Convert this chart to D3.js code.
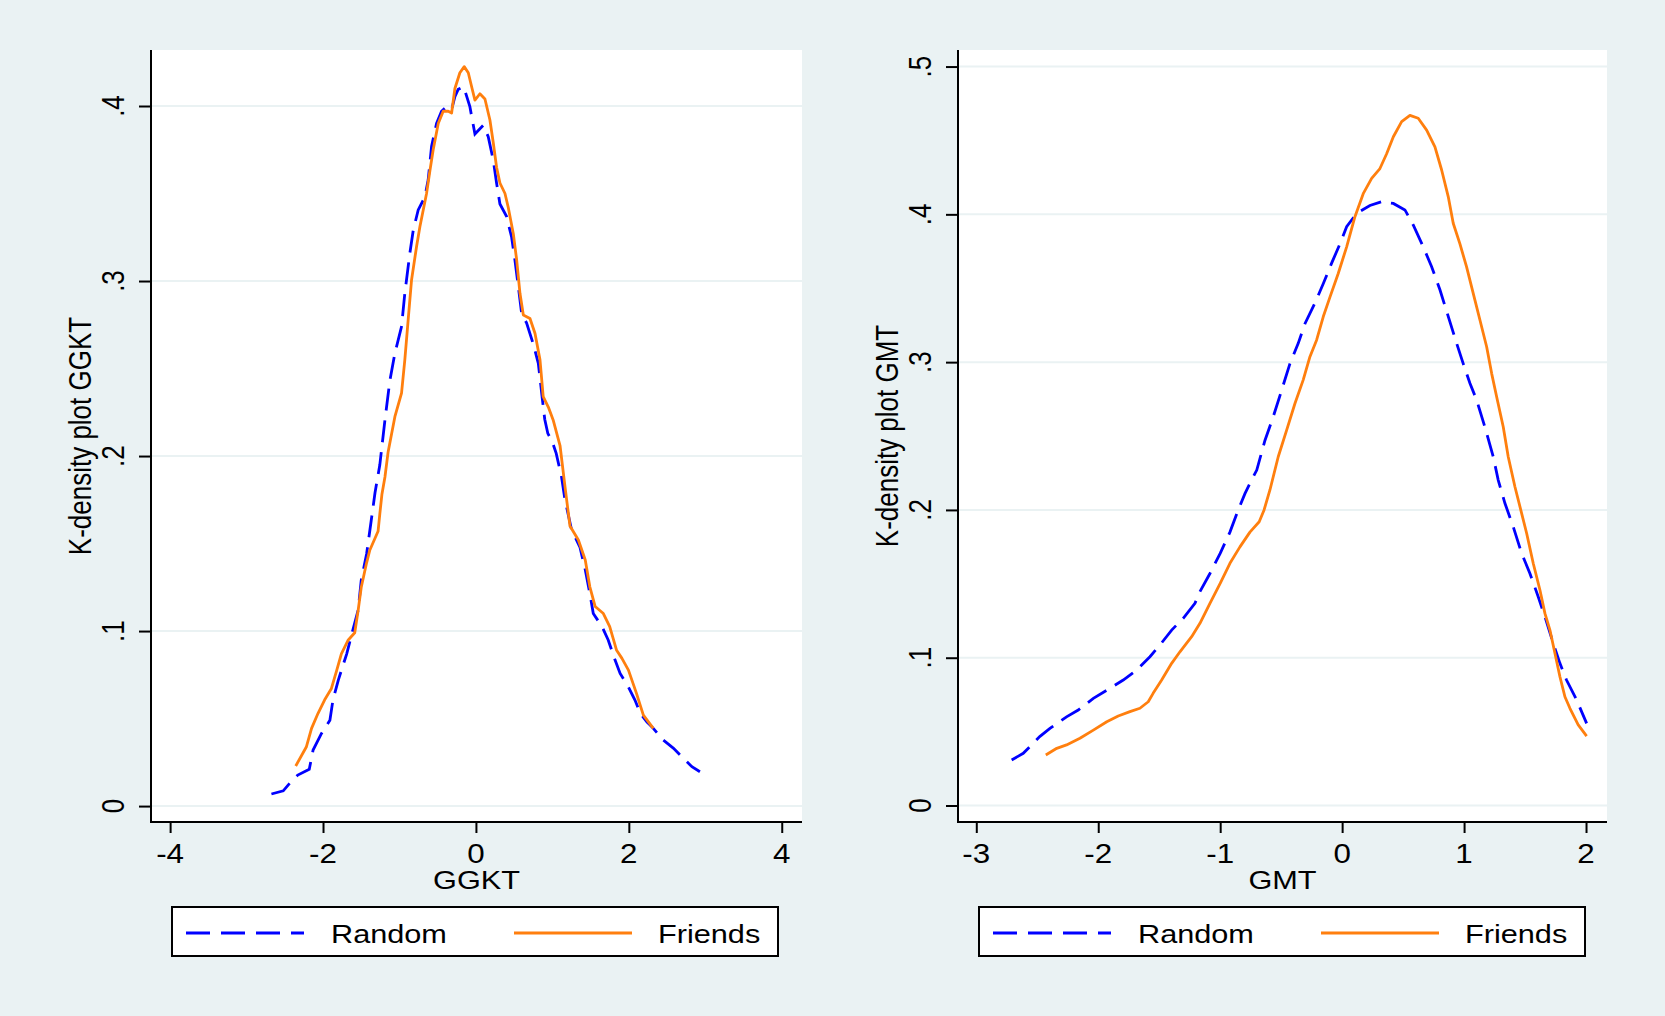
<!DOCTYPE html>
<html>
<head>
<meta charset="utf-8">
<script src="https://cdn.jsdelivr.net/npm/d3@7"></script>
<style>
  body { margin: 0; background: #eaf2f3; }
  text { font-family: "Liberation Sans", Arial, sans-serif; fill: #000; }
</style>
</head>
<body>
<script>
const ggktTicksX = [-4, -2, 0, 2, 4]
const ggktTicksY = [0, 0.1, 0.2, 0.3, 0.4]
const ggktTickLabelsY = ["0", ".1", ".2", ".3", ".4"]
const gmtTicksX = [-3, -2, -1, 0, 1, 2]
const gmtTicksY = [0, 0.1, 0.2, 0.3, 0.4, 0.5]
const gmtTickLabelsY = ["0", ".1", ".2", ".3", ".4", ".5"]
const seriesNames = ["Random", "Friends"]

const ggktRandom = [
  [-2.675, 0.0069], [-2.52, 0.0087], [-2.436, 0.013], [-2.33, 0.0177], [-2.18, 0.021],
  [-2.13, 0.032], [-2.02, 0.0415], [-1.91, 0.049], [-1.87, 0.0606], [-1.80, 0.072],
  [-1.69, 0.087], [-1.61, 0.1006], [-1.54, 0.112], [-1.50, 0.129], [-1.43, 0.144],
  [-1.37, 0.163], [-1.32, 0.179], [-1.257, 0.195], [-1.19, 0.2206], [-1.126, 0.243],
  [-1.06, 0.2587], [-0.973, 0.274], [-0.93, 0.293], [-0.864, 0.316], [-0.82, 0.329],
  [-0.755, 0.3406], [-0.668, 0.348], [-0.625, 0.3577], [-0.58, 0.377], [-0.515, 0.39],
  [-0.45, 0.397], [-0.384, 0.3996], [-0.318, 0.398], [-0.275, 0.4053], [-0.232, 0.4095],
  [-0.16, 0.411], [-0.079, 0.3996], [-0.013, 0.384], [0.096, 0.389], [0.161, 0.3825],
  [0.227, 0.369], [0.27, 0.356], [0.314, 0.344], [0.4, 0.337], [0.467, 0.325],
  [0.51, 0.312], [0.554, 0.297], [0.598, 0.2815], [0.663, 0.276], [0.75, 0.264],
  [0.816, 0.253], [0.86, 0.236], [0.90, 0.221], [0.94, 0.213], [1.0, 0.208],
  [1.05, 0.2015], [1.12, 0.188], [1.165, 0.175], [1.25, 0.158], [1.36, 0.148],
  [1.43, 0.135], [1.49, 0.1215], [1.535, 0.11], [1.65, 0.1025], [1.73, 0.0949],
  [1.82, 0.0834], [1.886, 0.0758], [1.995, 0.068], [2.08, 0.0606], [2.15, 0.053],
  [2.235, 0.0482], [2.32, 0.0444], [2.45, 0.0377], [2.585, 0.033], [2.715, 0.0272],
  [2.825, 0.0225], [2.93, 0.0196]
]

const ggktFriends = [
  [-2.357, 0.0229], [-2.217, 0.0339], [-2.15, 0.0444], [-2.065, 0.053], [-1.98, 0.0606],
  [-1.89, 0.0672], [-1.82, 0.0777], [-1.76, 0.087], [-1.67, 0.0949], [-1.585, 0.099],
  [-1.54, 0.112], [-1.50, 0.125], [-1.43, 0.139], [-1.39, 0.146], [-1.32, 0.153],
  [-1.28, 0.157], [-1.257, 0.167], [-1.23, 0.178], [-1.19, 0.188], [-1.148, 0.2025],
  [-1.06, 0.2225], [-0.973, 0.236], [-0.93, 0.255], [-0.886, 0.278], [-0.842, 0.3006],
  [-0.777, 0.3196], [-0.733, 0.331], [-0.646, 0.35], [-0.602, 0.363], [-0.559, 0.375],
  [-0.493, 0.39], [-0.428, 0.397], [-0.362, 0.397], [-0.318, 0.396], [-0.275, 0.41],
  [-0.21, 0.419], [-0.153, 0.4225], [-0.1, 0.419], [-0.056, 0.411], [-0.013, 0.4034],
  [0.052, 0.407], [0.118, 0.404], [0.183, 0.392], [0.227, 0.379], [0.27, 0.365],
  [0.314, 0.356], [0.38, 0.35], [0.423, 0.342], [0.489, 0.327], [0.533, 0.312],
  [0.576, 0.293], [0.62, 0.2806], [0.707, 0.2786], [0.773, 0.27], [0.838, 0.255],
  [0.88, 0.234], [0.947, 0.228], [1.01, 0.2206], [1.1, 0.206], [1.165, 0.1825],
  [1.23, 0.16], [1.34, 0.152], [1.43, 0.1406], [1.49, 0.1253], [1.56, 0.114],
  [1.667, 0.11], [1.75, 0.1025], [1.84, 0.089], [1.91, 0.0844], [1.995, 0.0777],
  [2.1, 0.0644], [2.19, 0.052], [2.32, 0.0444]
]

const gmtRandom = [
  [-2.71, 0.0308], [-2.615, 0.0353], [-2.48, 0.0466], [-2.396, 0.0522], [-2.26, 0.06],
  [-2.164, 0.0646], [-2.04, 0.0725], [-1.93, 0.078], [-1.795, 0.0849], [-1.685, 0.0917],
  [-1.576, 0.1007], [-1.494, 0.1086], [-1.398, 0.1187], [-1.303, 0.1267], [-1.207, 0.1368],
  [-1.166, 0.1447], [-1.084, 0.157], [-1.0, 0.1706], [-0.92, 0.185], [-0.852, 0.2],
  [-0.797, 0.211], [-0.756, 0.218], [-0.70, 0.227], [-0.633, 0.247], [-0.565, 0.263],
  [-0.496, 0.281], [-0.428, 0.299], [-0.36, 0.3127], [-0.305, 0.326], [-0.223, 0.34],
  [-0.155, 0.353], [-0.086, 0.367], [-0.018, 0.38], [0.037, 0.3916], [0.119, 0.4007],
  [0.228, 0.406], [0.324, 0.4085], [0.42, 0.4074], [0.515, 0.403], [0.583, 0.3928],
  [0.665, 0.378], [0.734, 0.3646], [0.802, 0.349], [0.87, 0.331], [0.939, 0.3127],
  [0.993, 0.299], [1.048, 0.2857], [1.103, 0.2744], [1.17, 0.2563], [1.239, 0.236],
  [1.28, 0.2202], [1.335, 0.2045], [1.403, 0.1886], [1.472, 0.1706], [1.54, 0.157],
  [1.608, 0.1413], [1.663, 0.1277], [1.731, 0.1097], [1.786, 0.0962], [1.84, 0.0849],
  [1.923, 0.0714], [2.005, 0.0556]
]

const gmtFriends = [
  [-2.43, 0.0342], [-2.34, 0.0387], [-2.26, 0.041], [-2.15, 0.0455], [-2.04, 0.051],
  [-1.93, 0.0567], [-1.836, 0.0606], [-1.74, 0.0635], [-1.658, 0.0658], [-1.59, 0.0702],
  [-1.55, 0.0759], [-1.48, 0.0849], [-1.398, 0.0962], [-1.33, 0.104], [-1.234, 0.1142],
  [-1.166, 0.1233], [-1.084, 0.1368], [-1.0, 0.1503], [-0.92, 0.1639], [-0.838, 0.175],
  [-0.756, 0.185], [-0.68, 0.192], [-0.64, 0.2], [-0.592, 0.2135], [-0.524, 0.236],
  [-0.455, 0.254], [-0.387, 0.272], [-0.319, 0.288], [-0.264, 0.3037], [-0.209, 0.315],
  [-0.155, 0.3307], [-0.1, 0.344], [-0.032, 0.36], [0.037, 0.378], [0.105, 0.3984],
  [0.173, 0.414], [0.242, 0.4243], [0.31, 0.431], [0.365, 0.441], [0.42, 0.4525],
  [0.488, 0.4627], [0.556, 0.467], [0.624, 0.465], [0.693, 0.457], [0.761, 0.4457],
  [0.816, 0.43], [0.87, 0.412], [0.911, 0.394], [0.966, 0.38], [1.02, 0.3646],
  [1.089, 0.342], [1.13, 0.3285], [1.185, 0.3104], [1.226, 0.2924], [1.267, 0.2766],
  [1.321, 0.2563], [1.362, 0.236], [1.417, 0.2157], [1.472, 0.1977], [1.513, 0.1842],
  [1.567, 0.1639], [1.622, 0.1458], [1.663, 0.13], [1.704, 0.1187], [1.745, 0.103],
  [1.786, 0.0871], [1.827, 0.0736], [1.868, 0.0658], [1.936, 0.0545], [2.005, 0.047]
]

const w = 1665
const h = 1016
const bg = "#eaf2f3"
const blue = "#0000ff"
const orange = "#ff7f0e"
const stretch = 1.18

const svg = d3.select("body")
  .append("svg")
  .attr("width", w)
  .attr("height", h)

svg.append("rect")
  .attr("width", w)
  .attr("height", h)
  .attr("fill", bg)

const drawPanel = (p) => {
  const xScale = d3.scaleLinear().domain(p.xDomain).range([p.left, p.right])
  const yScale = d3.scaleLinear().domain(p.yDomain).range([p.bottom, p.top])

  svg.append("rect")
    .attr("x", p.left)
    .attr("y", p.top)
    .attr("width", p.right - p.left)
    .attr("height", p.bottom - p.top)
    .attr("fill", "#fff")

  // horizontal grid
  svg.append("g")
    .selectAll("line")
    .data(p.ticksY)
    .enter()
    .append("line")
    .attr("x1", p.left)
    .attr("x2", p.right)
    .attr("y1", (d) => yScale(d))
    .attr("y2", (d) => yScale(d))
    .attr("stroke", bg)
    .attr("stroke-width", 2)

  const line = d3.line()
    .x((d) => xScale(d[0]))
    .y((d) => yScale(d[1]))

  svg.append("path")
    .datum(p.random)
    .attr("d", line)
    .attr("fill", "none")
    .attr("stroke", blue)
    .attr("stroke-width", 2.8)
    .attr("stroke-dasharray", "22,10")

  svg.append("path")
    .datum(p.friends)
    .attr("d", line)
    .attr("fill", "none")
    .attr("stroke", orange)
    .attr("stroke-width", 2.8)
    .attr("stroke-linejoin", "round")

  // axes
  const yAxis = d3.axisLeft(yScale)
    .tickValues(p.ticksY)
    .tickSize(12)
    .tickFormat("")
  const gy = svg.append("g")
    .attr("transform", "translate(" + p.left + ",0)")
    .call(yAxis)
  gy.select(".domain").remove()
  gy.selectAll(".tick line").attr("stroke", "#000").attr("stroke-width", 2)
  svg.append("line")
    .attr("x1", p.left).attr("x2", p.left)
    .attr("y1", p.top).attr("y2", p.bottom + 1)
    .attr("stroke", "#000").attr("stroke-width", 2)

  const xAxis = d3.axisBottom(xScale)
    .tickValues(p.ticksX)
    .tickSize(11)
    .tickFormat("")
  const gx = svg.append("g")
    .attr("transform", "translate(0," + p.bottom + ")")
    .call(xAxis)
  gx.select(".domain").remove()
  gx.selectAll(".tick line").attr("stroke", "#000").attr("stroke-width", 2)
  svg.append("line")
    .attr("x1", p.left - 1).attr("x2", p.right)
    .attr("y1", p.bottom).attr("y2", p.bottom)
    .attr("stroke", "#000").attr("stroke-width", 2)

  svg.append("g")
    .selectAll("text")
    .data(p.ticksX)
    .enter()
    .append("text")
    .attr("transform", (d) => "translate(" + xScale(d) + "," + (p.bottom + 41) + ") scale(1.12,1)")
    .attr("text-anchor", "middle")
    .attr("font-size", 28)
    .text((d) => d)

  svg.append("g")
    .selectAll("text")
    .data(p.ticksY)
    .enter()
    .append("text")
    .attr("transform", (d) => "translate(" + (p.left - 27) + "," + yScale(d) + ") scale(" + stretch + ",1) rotate(-90)")
    .attr("text-anchor", "middle")
    .attr("font-size", 26)
    .text((d, i) => p.tickLabelsY[i])

  svg.append("text")
    .attr("transform", "translate(" + (p.left + p.right) / 2 + "," + (p.bottom + 67) + ") scale(" + stretch + ",1)")
    .attr("text-anchor", "middle")
    .attr("font-size", 26)
    .text(p.xTitle)

  svg.append("text")
    .attr("transform", "translate(" + (p.left - 60) + "," + (p.top + p.bottom) / 2 + ") scale(" + stretch + ",1) rotate(-90)")
    .attr("text-anchor", "middle")
    .attr("font-size", 26)
    .text(p.yTitle)

  // legend
  const lx = p.legendX
  const ly = 907
  svg.append("rect")
    .attr("x", lx)
    .attr("y", ly)
    .attr("width", 606)
    .attr("height", 49)
    .attr("fill", "#fff")
    .attr("stroke", "#000")
    .attr("stroke-width", 2)

  const keys = [
    { name: seriesNames[0], color: blue, dash: "24,11", x: 14, tx: 159 },
    { name: seriesNames[1], color: orange, dash: null, x: 342, tx: 486 }
  ]
  keys.forEach((k) => {
    svg.append("line")
      .attr("x1", lx + k.x)
      .attr("x2", lx + k.x + 118)
      .attr("y1", ly + 26)
      .attr("y2", ly + 26)
      .attr("stroke", k.color)
      .attr("stroke-width", 2.8)
      .attr("stroke-dasharray", k.dash)
    svg.append("text")
      .attr("transform", "translate(" + (lx + k.tx) + "," + (ly + 36) + ") scale(" + stretch + ",1)")
      .attr("font-size", 26)
      .text(k.name)
  })
}

drawPanel({
  left: 151, right: 802, top: 50, bottom: 822,
  xDomain: [-4.25, 4.265], yDomain: [-0.0091, 0.432],
  ticksX: ggktTicksX, ticksY: ggktTicksY, tickLabelsY: ggktTickLabelsY,
  random: ggktRandom, friends: ggktFriends,
  xTitle: "GGKT", yTitle: "K-density plot GGKT",
  legendX: 172
})

drawPanel({
  left: 958, right: 1607, top: 50, bottom: 822,
  xDomain: [-3.15, 2.172], yDomain: [-0.01116, 0.5112],
  ticksX: gmtTicksX, ticksY: gmtTicksY, tickLabelsY: gmtTickLabelsY,
  random: gmtRandom, friends: gmtFriends,
  xTitle: "GMT", yTitle: "K-density plot GMT",
  legendX: 979
})
</script>
</body>
</html>
